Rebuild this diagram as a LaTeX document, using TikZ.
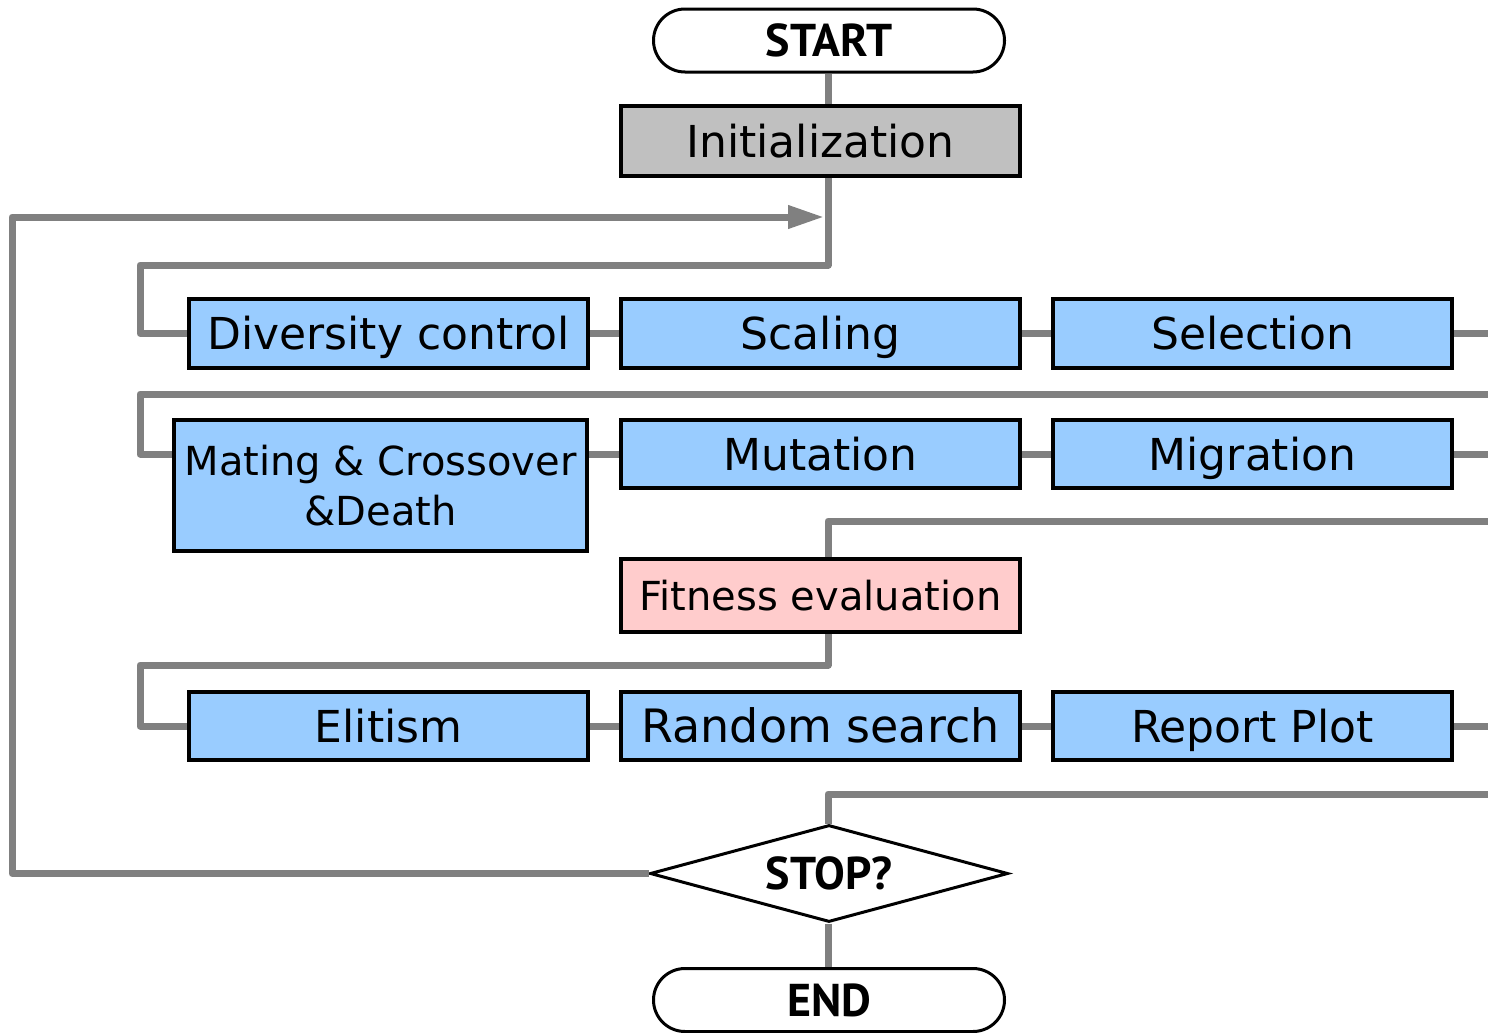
\documentclass[tikz,border=0pt]{standalone}
\usepackage{fontspec}
\setmainfont{DejaVu Sans}
\newfontfamily\termfont{PT Sans}
\usetikzlibrary{shapes.geometric,arrows.meta}
\definecolor{boxblue}{HTML}{99CCFF}
\definecolor{boxgray}{HTML}{C0C0C0}
\definecolor{boxpink}{HTML}{FFCCCC}
\definecolor{linegray}{HTML}{808080}
\tikzset{
  procbox/.style={draw=black, line width=2pt, fill=boxblue, rectangle, inner sep=0pt,
    minimum width=199.5pt, minimum height=34.5pt, font=\fontsize{22}{26}\selectfont,
    text height=16pt, text depth=0pt},
  termbox/.style={draw=black, line width=1.5pt, fill=white, rectangle, rounded corners=15.75pt,
    inner sep=0pt, minimum width=175.5pt, minimum height=31.5pt,
    font=\termfont\bfseries\fontsize{23}{28}\selectfont, text height=16pt, text depth=0pt},
  decbox/.style={draw=black, line width=1.5pt, fill=white, diamond, aspect=3.7, inner sep=0pt,
    minimum width=179pt, minimum height=48.5pt,
    font=\termfont\bfseries\fontsize{23}{28}\selectfont, text height=16pt, text depth=0pt},
  conn/.style={draw=linegray, line width=3.5pt, line join=round},
}
\begin{document}
\begin{tikzpicture}[x=0.5pt,y=-0.5pt]
\useasboundingbox (0,0) rectangle (1488,1033);
% nodes
\node[termbox] (start) at (829,40.5) {START};
\node[procbox, fill=boxgray, minimum height=35pt] (init) at (820.5,141) {Initialization};
\node[procbox] (div) at (388.5,333.5) {Diversity control};
\node[procbox] (scal) at (820.5,333.5) {Scaling};
\node[procbox] (sel) at (1252.5,333.5) {Selection};
\node[procbox, minimum width=206.5pt, minimum height=65.5pt, align=center,
      text height=, text depth=,
      font=\fontsize{20}{25}\selectfont] (mate) at (380.5,485.5) {Mating \& Crossover\\\&Death};
\node[procbox, minimum height=34pt] (mut) at (820.5,454) {Mutation};
\node[procbox, minimum height=34pt] (mig) at (1252.5,454) {Migration};
\node[procbox, fill=boxpink, minimum height=36.5pt, font=\fontsize{20}{24}\selectfont,
      text height=14.6pt] (fit) at (820.5,595.5) {Fitness evaluation};
\node[procbox, minimum height=34pt] (elit) at (388.5,726) {Elitism};
\node[procbox, minimum height=34pt, font=\fontsize{23}{27}\selectfont,
      text height=16.8pt] (rand) at (820.5,726) {Random search};
\node[procbox, minimum height=34pt] (rep) at (1252.5,726) {Report Plot};
\node[decbox] (stop) at (829,873.5) {STOP?};
\node[termbox] (end) at (829,1000) {END};
% coordinates
\coordinate (ax) at (828,0);
\coordinate (j1) at (828,265);
\coordinate (j1l) at (140,265);
\coordinate (r1) at (1488,333.5);
\coordinate (r2) at (1488,394);
\coordinate (l2) at (140,394);
\coordinate (r3) at (1488,454);
\coordinate (r4) at (1488,521);
\coordinate (j4) at (828,665);
\coordinate (l4) at (140,665);
\coordinate (r5) at (1488,726);
\coordinate (r6) at (1488,794);
\coordinate (lp) at (12,873.5);
\coordinate (tip) at (824,217);
% connectors
\draw[conn] (start.south -| ax) -- (init.north -| ax);
\draw[conn] (init.south -| ax) -- (j1) -- (j1l) |- (div.west);
\draw[conn] (div.east) -- (scal.west);
\draw[conn] (scal.east) -- (sel.west);
\draw[conn] (sel.east) -- (r1);
\draw[conn] (r2) -- (l2) |- (mut.west -| mate.west);
\draw[conn] (mut.west -| mate.east) -- (mut.west);
\draw[conn] (mut.east) -- (mig.west);
\draw[conn] (mig.east) -- (r3);
\draw[conn] (r4) -- (r4 -| ax) -- (fit.north -| ax);
\draw[conn] (fit.south -| ax) -- (j4) -- (l4) |- (elit.west);
\draw[conn] (elit.east) -- (rand.west);
\draw[conn] (rand.east) -- (rep.west);
\draw[conn] (rep.east) -- (r5);
\draw[conn] (r6) -- (r6 -| ax) -- (stop.north -| ax);
\draw[conn] (stop.south -| ax) -- (end.north -| ax);
\draw[conn, -{Triangle[length=18pt,width=11pt]}] (stop.west) -- (lp) |- (tip);
\end{tikzpicture}
\end{document}
